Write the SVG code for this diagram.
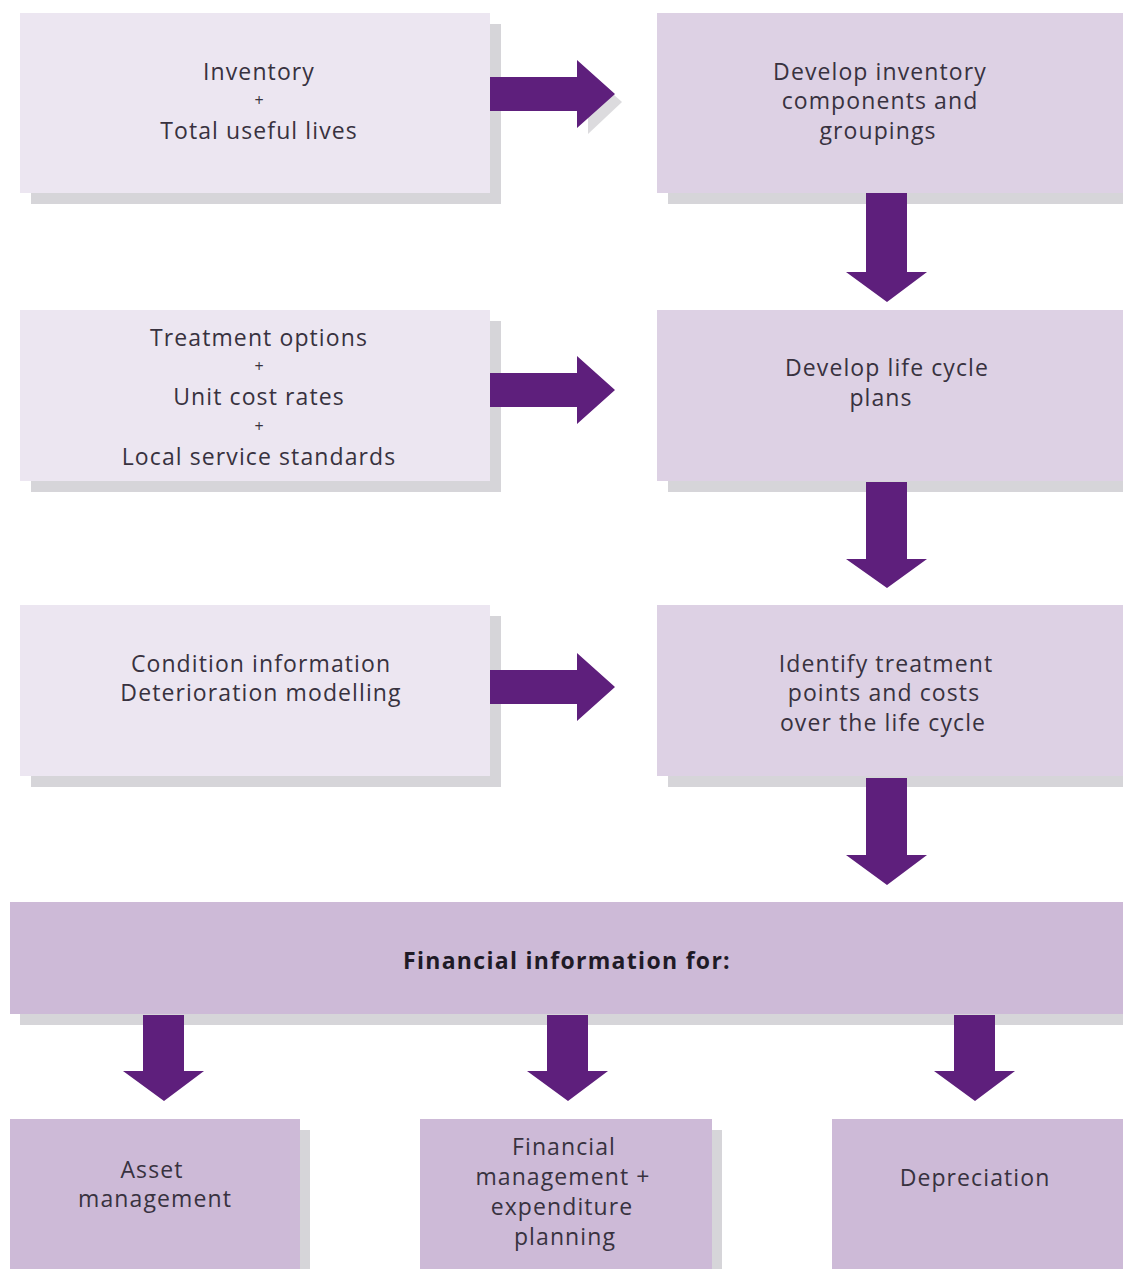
<svg xmlns="http://www.w3.org/2000/svg" width="1123" height="1269" viewBox="0 0 1123 1269">
<defs>
<style>
.shadow{fill:#d6d5d9}
.in{fill:#ece6f1}
.mid{fill:#ddd1e4}
.out{fill:#cdbad7}
.arrow{fill:#5e1f7c}
text{font-family:"Open Sans","Noto Sans","Liberation Sans",sans-serif;font-size:23px;letter-spacing:1.1px;fill:#38323f;text-anchor:middle;dominant-baseline:central}
.b{font-weight:bold;fill:#1f1a26;letter-spacing:1.3px}
.p{font-size:16px;letter-spacing:0}
</style>
</defs>
<rect width="1123" height="1269" fill="#ffffff"/>
<g id="node-inventory">
<rect class="shadow" x="31" y="24" width="470" height="180"/>
<rect class="in" x="20" y="13" width="470" height="180"/>
<text x="259" y="71">Inventory</text>
<text class="p" x="259" y="100">+</text>
<text x="259" y="130">Total useful lives</text>
</g>
<g id="node-develop-inventory">
<rect class="shadow" x="668" y="24" width="455" height="180"/>
<rect class="mid" x="657" y="13" width="466" height="180"/>
<text x="880" y="71">Develop inventory</text>
<text x="880" y="100">components and</text>
<text x="878" y="130">groupings</text>
</g>
<g id="node-treatment">
<rect class="shadow" x="31" y="321" width="470" height="171"/>
<rect class="in" x="20" y="310" width="470" height="171"/>
<text x="259" y="337">Treatment options</text>
<text class="p" x="259" y="366">+</text>
<text x="259" y="396">Unit cost rates</text>
<text class="p" x="259" y="426">+</text>
<text x="259" y="456">Local service standards</text>
</g>
<g id="node-life-cycle">
<rect class="shadow" x="668" y="321" width="455" height="171"/>
<rect class="mid" x="657" y="310" width="466" height="171"/>
<text x="887" y="367">Develop life cycle</text>
<text x="881" y="397">plans</text>
</g>
<g id="node-condition">
<rect class="shadow" x="31" y="616" width="470" height="171"/>
<rect class="in" x="20" y="605" width="470" height="171"/>
<text x="261" y="663">Condition information</text>
<text x="261" y="692">Deterioration modelling</text>
</g>
<g id="node-identify">
<rect class="shadow" x="668" y="616" width="455" height="171"/>
<rect class="mid" x="657" y="605" width="466" height="171"/>
<text x="886" y="663">Identify treatment</text>
<text x="884" y="692">points and costs</text>
<text x="883" y="722">over the life cycle</text>
</g>
<g id="node-financial">
<rect class="shadow" x="20" y="913" width="1103" height="112"/>
<rect class="out" x="10" y="902" width="1113" height="112"/>
<text class="b" x="567" y="960">Financial information for:</text>
</g>
<g id="node-asset">
<rect class="shadow" x="20" y="1130" width="290" height="139"/>
<rect class="out" x="10" y="1119" width="290" height="150"/>
<text x="152" y="1169">Asset</text>
<text x="155" y="1198">management</text>
</g>
<g id="node-fin-mgmt">
<rect class="shadow" x="430" y="1130" width="292" height="139"/>
<rect class="out" x="420" y="1119" width="292" height="150"/>
<text x="564" y="1146">Financial</text>
<text x="563" y="1176">management +</text>
<text x="562" y="1206">expenditure</text>
<text x="565" y="1236">planning</text>
</g>
<g id="node-depreciation">
<rect class="shadow" x="842" y="1130" width="281" height="139"/>
<rect class="out" x="832" y="1119" width="291" height="150"/>
<text x="975" y="1177">Depreciation</text>
</g>
<g id="connectors">
<polygon fill="#dcdbde" points="588,72 622,102 588,134"/>
<polygon class="arrow" points="490,77 577,77 577,60 615,94 577,128 577,111 490,111"/>
<polygon class="arrow" points="490,373 577,373 577,356 615,390 577,424 577,407 490,407"/>
<polygon class="arrow" points="490,670 577,670 577,653 615,687 577,721 577,704 490,704"/>
<polygon class="arrow" points="866,193 907,193 907,272 927,272 887,302 846,272 866,272"/>
<polygon class="arrow" points="866,482 907,482 907,559 927,559 887,588 846,559 866,559"/>
<polygon class="arrow" points="866,778 907,778 907,855 927,855 887,885 846,855 866,855"/>
<polygon class="arrow" points="143,1015 184,1015 184,1071 204,1071 164,1101 123,1071 143,1071"/>
<polygon class="arrow" points="547,1015 588,1015 588,1071 608,1071 568,1101 527,1071 547,1071"/>
<polygon class="arrow" points="954,1015 995,1015 995,1071 1015,1071 975,1101 934,1071 954,1071"/>
</g>
</svg>
